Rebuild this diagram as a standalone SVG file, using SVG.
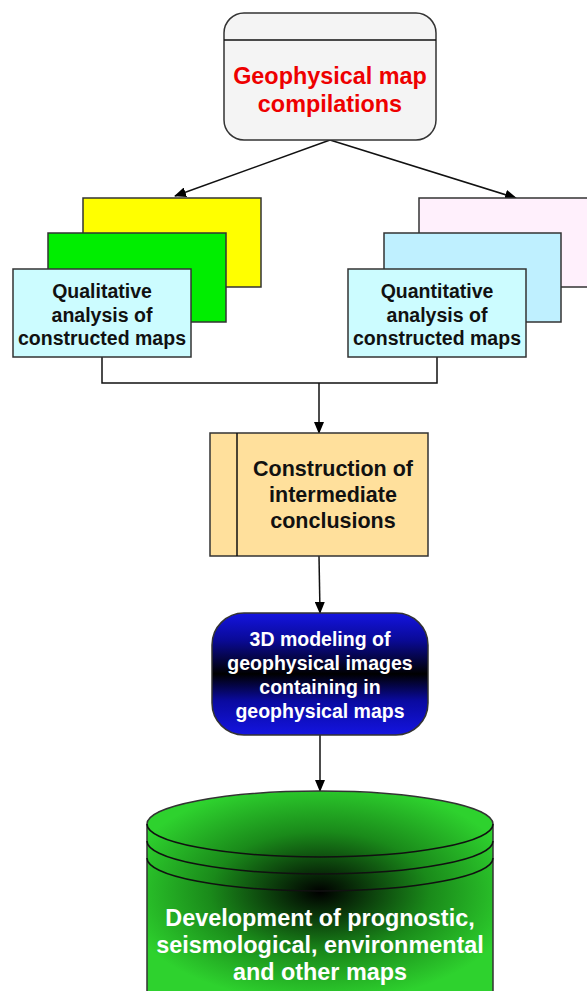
<svg xmlns="http://www.w3.org/2000/svg" width="587" height="991" viewBox="0 0 587 991">
<style>
.bx{stroke:#333;stroke-width:1.5}
.ln{stroke:#111;stroke-width:1.5;fill:none}
.t{font-family:"Liberation Sans",Arial,sans-serif;font-weight:bold;text-anchor:middle}
</style>
<defs>
<marker id="ah" markerWidth="12" markerHeight="10" refX="11" refY="5" orient="auto" markerUnits="userSpaceOnUse">
<path d="M0,0 L12,5 L0,10 Z" fill="#000"/>
</marker>
<linearGradient id="blue" x1="0" y1="0" x2="0" y2="1">
<stop offset="0" stop-color="#1414e0"/>
<stop offset="0.22" stop-color="#0a0a98"/>
<stop offset="0.5" stop-color="#000000"/>
<stop offset="0.72" stop-color="#0a0aa0"/>
<stop offset="1" stop-color="#1414e0"/>
</linearGradient>
<radialGradient id="grn" gradientUnits="userSpaceOnUse" cx="320" cy="892" r="200" gradientTransform="translate(320 892) scale(1 0.55) translate(-320 -892)">
<stop offset="0" stop-color="#000"/>
<stop offset="0.55" stop-color="#1a8a1a"/>
<stop offset="1" stop-color="#2ed22e"/>
</radialGradient>
</defs>
<g id="connectors">
<line class="ln" x1="330" y1="140" x2="175" y2="196" marker-end="url(#ah)"/>
<line class="ln" x1="330" y1="140" x2="516" y2="198" marker-end="url(#ah)"/>
<polyline class="ln" points="102,357 102,383 437,383 437,357"/>
<line class="ln" x1="319" y1="383" x2="319" y2="433" marker-end="url(#ah)"/>
<line class="ln" x1="319" y1="556" x2="320" y2="613" marker-end="url(#ah)"/>
<line class="ln" x1="320" y1="735" x2="320" y2="791" marker-end="url(#ah)"/>
</g>
<g id="geophysical-map-compilations">
<rect class="bx" x="224" y="13" width="212" height="127" rx="20" fill="#f4f4f4"/>
<line class="ln" x1="224" y1="40" x2="436" y2="40"/>
<text class="t" x="330" y="84" font-size="23.4" fill="#ee0000">Geophysical map</text>
<text class="t" x="330" y="112" font-size="23.4" fill="#ee0000">compilations</text>
</g>
<g id="qualitative-analysis">
<rect class="bx" x="83" y="198" width="178" height="89" fill="#ffff00"/>
<rect class="bx" x="48" y="233" width="178" height="89" fill="#00ee00"/>
<rect class="bx" x="13" y="269" width="178" height="88" fill="#ccfcff"/>
<text class="t" x="102" y="298" font-size="19.5" fill="#111">Qualitative</text>
<text class="t" x="102" y="322" font-size="19.5" fill="#111">analysis of</text>
<text class="t" x="102" y="345" font-size="19.5" fill="#111">constructed maps</text>
</g>
<g id="quantitative-analysis">
<rect class="bx" x="419" y="198" width="180" height="89" fill="#fff0fc"/>
<rect class="bx" x="384" y="233" width="177" height="89" fill="#bff0ff"/>
<rect class="bx" x="348" y="269" width="178" height="88" fill="#ccfcff"/>
<text class="t" x="437" y="298" font-size="19.5" fill="#111">Quantitative</text>
<text class="t" x="437" y="322" font-size="19.5" fill="#111">analysis of</text>
<text class="t" x="437" y="345" font-size="19.5" fill="#111">constructed maps</text>
</g>
<g id="construction-of-intermediate-conclusions">
<rect class="bx" x="210" y="433" width="218" height="123" fill="#ffe09c"/>
<line class="ln" x1="237" y1="433" x2="237" y2="556"/>
<text class="t" x="333" y="476" font-size="21.5" fill="#111">Construction of</text>
<text class="t" x="333" y="502" font-size="21.5" fill="#111">intermediate</text>
<text class="t" x="333" y="528" font-size="21.5" fill="#111">conclusions</text>
</g>
<g id="3d-modeling">
<rect class="bx" x="212" y="613" width="216" height="122" rx="32" fill="url(#blue)"/>
<text class="t" x="320" y="646" font-size="19.5" fill="#fff">3D modeling of</text>
<text class="t" x="320" y="670" font-size="19.5" fill="#fff">geophysical images</text>
<text class="t" x="320" y="694" font-size="19.5" fill="#fff">containing in</text>
<text class="t" x="320" y="718" font-size="19.5" fill="#fff">geophysical maps</text>
</g>
<g id="development-of-maps">
<path class="bx" d="M147,824 A173,33 0 0 1 493,824 L493,1000 L147,1000 Z" fill="url(#grn)"/>
<path class="ln" d="M147,824 A173,33 0 0 0 493,824"/>
<path class="ln" d="M147,841 A173,33 0 0 0 493,841"/>
<path class="ln" d="M147,858 A173,33 0 0 0 493,858"/>
<text class="t" x="320" y="926" font-size="23.4" fill="#fff">Development of prognostic,</text>
<text class="t" x="320" y="953" font-size="23.4" fill="#fff">seismological, environmental</text>
<text class="t" x="320" y="980" font-size="23.4" fill="#fff">and other maps</text>
</g>
</svg>
